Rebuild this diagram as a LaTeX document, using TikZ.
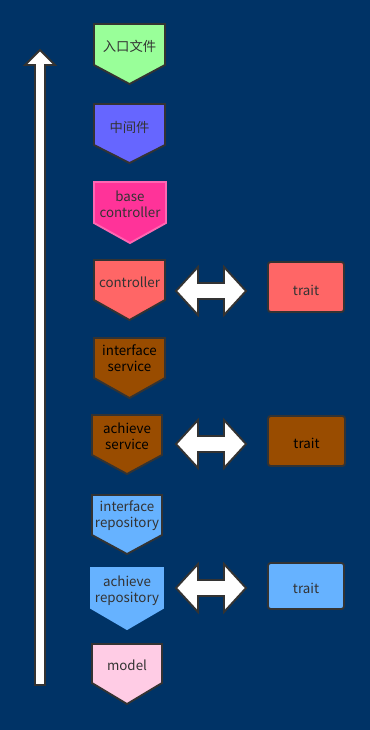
\documentclass[tikz,border=0pt]{standalone}
\usepackage{fontspec}
\setmainfont{Noto Sans CJK SC}
\begin{document}
\begin{tikzpicture}[x=0.75pt,y=-0.75pt,
  outline/.style={draw=black!80,line width=1.4pt,line join=miter},
  label/.style={font=\fontsize{10}{12}\selectfont,text=black!80,align=center,inner sep=0pt},
  traitbox/.style={outline,rounded corners=2pt,line width=1.4pt}]
\definecolor{bg}{HTML}{003366}
\definecolor{cgreen}{HTML}{99FF99}
\definecolor{cviolet}{HTML}{6666FF}
\definecolor{cpink}{HTML}{FF3399}
\definecolor{cpinkline}{HTML}{FF66B2}
\definecolor{cred}{HTML}{FF6666}
\definecolor{cbrown}{HTML}{994C00}
\definecolor{cblue}{HTML}{66B2FF}
\definecolor{clight}{HTML}{FFCCE5}
\fill[bg] (0,0) rectangle (370,730);
\useasboundingbox (0,0) rectangle (370,730);

% vertical arrow on the left
\draw[outline,fill=white] (35,685) -- (35,65) -- (25,65) -- (40,50) -- (55,65) -- (45,65) -- (45,685) -- cycle;

% layer chevrons: x1/x2/top/side bottom/point/fill/line
\foreach \xa/\xb/\yt/\ys/\yp/\fc/\dc/\nm in {
  94/165/24/65/84/cgreen/black!80/c1,
  94/165/104/145/163/cviolet/black!80/c2,
  94/166/182/223/243/cpink/cpinkline/c3,
  94/165/260/300/320/cred/black!80/c4,
  94/165/338/378/398/cbrown/black!80/c5,
  92/162/415/455/474/cbrown/black!80/c6,
  92/162/495/535/554/cblue/black!80/c7,
  91/163/568/608/629/cblue/cblue/c8,
  92/162/644/683/704/clight/black!80/c9}
{
  \draw[outline,fill=\fc,draw=\dc] (\xa,\yt) -- (\xb,\yt) -- (\xb,\ys) -- ({(\xa+\xb)/2},\yp) -- (\xa,\ys) -- cycle;
}

\node[label] (t1) at (129.5,46) {入口文件};
\node[label] (t2) at (129.5,127) {中间件};
\node[label] (t3) at (130,204) {base\\controller};
\node[label] (t4) at (129.5,282) {controller};
\node[label,text=black] (t5) at (129.5,358) {interface\\service};
\node[label,text=black] (t6) at (127,436) {achieve\\service};
\node[label] (t7) at (127,516) {interface\\repository};
\node[label] (t8) at (127,591) {achieve\\repository};
\node[label] (t9) at (127,665) {model};

% two-headed arrows
\foreach \yc/\nm in {291/a1,444/a2,588/a3}
{
  \draw[outline,fill=white] (176,\yc) -- (198,\yc-24) -- (198,\yc-8) -- (224,\yc-8) -- (224,\yc-24)
    -- (246,\yc) -- (224,\yc+24) -- (224,\yc+8) -- (198,\yc+8) -- (198,\yc+24) -- cycle;
}

% trait boxes
\draw[traitbox,fill=cred] (268,262) rectangle (344,312);
\node[label] (r1) at (306,290) {trait};
\draw[traitbox,fill=cbrown] (268,416) rectangle (345,466);
\node[label,text=black] (r2) at (306.5,443) {trait};
\draw[traitbox,fill=cblue] (268,563) rectangle (344,609);
\node[label] (r3) at (306,588) {trait};
\end{tikzpicture}
\end{document}
